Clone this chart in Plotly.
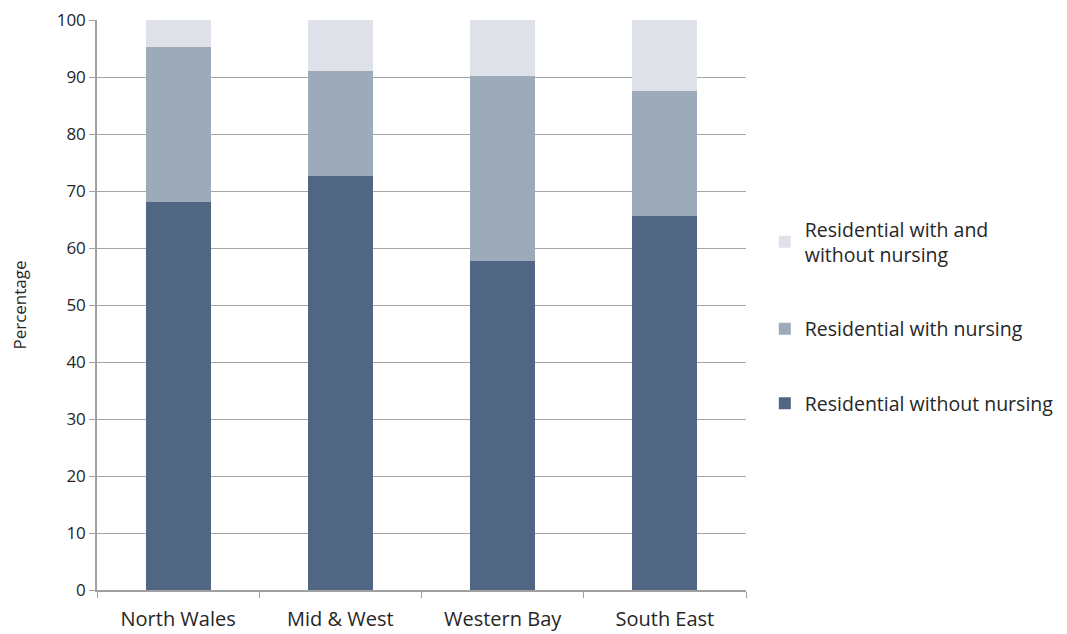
import plotly.graph_objects as go

regions = ["North Wales", "Mid & West", "Western Bay", "South East"]
without_nursing = [68.1, 72.6, 57.7, 65.6]
with_nursing = [27.2, 18.5, 32.4, 21.9]
with_and_without = [4.7, 8.9, 9.9, 12.5]

series_names = ["Residential without nursing", "Residential with nursing",
                "Residential with and<br>without nursing"]
colors = ["#506683", "#9DAAB9", "#DEE2E8"]
ranks = [3, 2, 1]

fig = go.Figure()
for i, (name, vals) in enumerate(zip(series_names, [without_nursing, with_nursing, with_and_without])):
    fig.add_trace(go.Bar(x=regions, y=vals, name=name, marker_color=colors[i],
                         marker_line_width=0, legendgroup=str(i), legendrank=ranks[i]))

font = "Open Sans, Noto Sans, sans-serif"
fig.update_layout(
    barmode="stack",
    bargap=0.6,
    width=1067, height=634,
    margin=dict(l=97, r=321, t=20, b=44, autoexpand=False),
    plot_bgcolor="white", paper_bgcolor="white",
    font=dict(family=font, size=17, color="#262626"),
    legend=dict(x=1.029, xanchor="left", y=0.48, yanchor="middle",
                traceorder="grouped", tracegroupgap=46,
                font=dict(size=19.5, color="#262626")),
    xaxis=dict(showline=True, linecolor="#A0A0A0", linewidth=1.5, automargin=False,
               ticks="outside", tickson="boundaries", ticklen=6, tickcolor="#A0A0A0",
               tickfont=dict(size=20), ticklabelstandoff=10),
    yaxis=dict(range=[0, 100], dtick=10, showgrid=True, gridcolor="#A6A6A6", gridwidth=1.2,
               showline=True, linecolor="#A0A0A0", linewidth=1.5, automargin=False,
               ticks="outside", ticklen=6, tickcolor="#A0A0A0",
               title=dict(text="Percentage", font=dict(size=17), standoff=26),
               tickfont=dict(size=17), zeroline=False),
)
fig.write_html("out.html")
